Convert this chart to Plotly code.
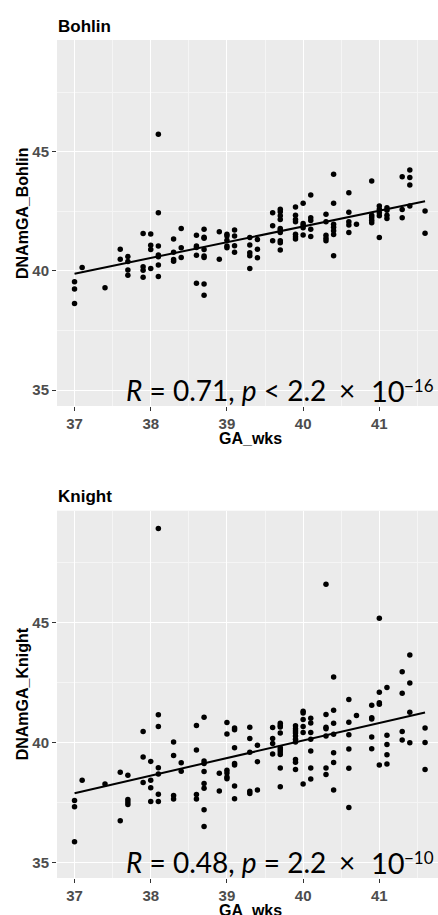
import numpy as np
import plotly.graph_objects as go

# ---------------- data ----------------
bohlin_x = [37.0, 37.0, 37.0, 37.1, 37.4, 37.6, 37.6, 37.7, 37.7, 37.7, 37.7,
            37.9, 37.9, 37.9, 37.9, 38.0, 38.0, 38.0, 38.0,
            38.1, 38.1, 38.1, 38.1, 38.1, 38.1, 38.1,
            38.3, 38.3, 38.3, 38.3, 38.4, 38.4, 38.4,
            38.6, 38.6, 38.6, 38.6, 38.6,
            38.7, 38.7, 38.7, 38.7, 38.7, 38.7, 38.7, 38.7,
            38.9, 38.9, 39.0, 39.0, 39.0, 39.0, 39.0,
            39.1, 39.1, 39.1, 39.1, 39.3, 39.3, 39.3, 39.3, 39.3,
            39.4, 39.4, 39.4, 39.6, 39.6, 39.6,
            39.7, 39.7, 39.7, 39.7, 39.7, 39.7, 39.7, 39.7, 39.7, 39.7,
            39.9, 39.9, 39.9, 39.9, 39.9, 39.9, 39.9,
            40.0, 40.0, 40.0, 40.0, 40.0, 40.1, 40.1, 40.1, 40.1, 40.1,
            40.3, 40.3, 40.3, 40.3, 40.3,
            40.4, 40.4, 40.4, 40.4, 40.4, 40.4, 40.4,
            40.6, 40.6, 40.6, 40.6, 40.6, 40.7,
            40.9, 40.9, 40.9, 40.9, 40.9, 41.0, 41.0, 41.0, 41.0, 41.0,
            41.1, 41.1, 41.1, 41.1, 41.3, 41.3, 41.3,
            41.4, 41.4, 41.4, 41.4, 41.6, 41.6]
bohlin_y = [39.54, 39.24, 38.63, 40.14, 39.29, 40.91, 40.49, 40.60, 40.39, 40.04, 39.82,
            41.57, 40.17, 40.03, 39.73, 41.55, 41.08, 40.90, 40.10,
            45.73, 42.44, 41.05, 40.67, 40.59, 40.25, 39.76,
            41.34, 40.78, 40.48, 40.41, 41.78, 40.97, 40.56,
            41.50, 41.04, 40.98, 40.66, 39.48,
            41.75, 41.41, 41.37, 40.90, 40.63, 40.56, 39.45, 38.98,
            41.64, 40.49, 41.54, 41.46, 41.29, 41.05, 40.97,
            41.72, 41.46, 41.06, 40.78, 41.40, 41.09, 40.76, 40.64, 40.10,
            41.32, 40.91, 40.55, 42.44, 41.89, 41.27,
            42.59, 42.48, 42.31, 42.16, 41.78, 41.71, 41.61, 41.26, 41.18, 40.88,
            42.68, 42.34, 42.16, 42.06, 41.54, 41.43, 41.34,
            42.84, 41.99, 41.90, 41.81, 41.51, 43.19, 42.23, 42.11, 41.75, 41.44,
            42.38, 42.06, 41.50, 41.37, 41.27,
            44.06, 42.84, 41.96, 41.83, 41.69, 41.53, 40.64,
            43.28, 42.46, 42.06, 41.93, 41.61, 41.96,
            43.77, 42.34, 42.24, 42.13, 42.02, 42.72, 42.59, 42.44, 42.31, 41.40,
            42.65, 42.55, 42.34, 42.20, 43.95, 42.58, 42.23,
            44.23, 43.92, 43.61, 42.72, 42.51, 41.58]

knight_x = [37.0, 37.0, 37.0, 37.1, 37.4, 37.6, 37.6, 37.7, 37.7, 37.7, 37.7,
            37.9, 37.9, 37.9, 38.0, 38.0, 38.0, 38.0,
            38.1, 38.1, 38.1, 38.1, 38.1, 38.1, 38.1,
            38.3, 38.3, 38.3, 38.3, 38.4, 38.4,
            38.6, 38.6, 38.6, 38.6,
            38.7, 38.7, 38.7, 38.7, 38.7, 38.7, 38.7, 38.7,
            38.9, 38.9, 39.0, 39.0, 39.0, 39.0, 39.0, 39.0,
            39.1, 39.1, 39.1, 39.1, 39.1, 39.1, 39.1,
            39.3, 39.3, 39.3, 39.3, 39.3, 39.4, 39.4, 39.4,
            39.6, 39.6, 39.6, 39.6,
            39.7, 39.7, 39.7, 39.7, 39.7, 39.7, 39.7, 39.7, 39.7, 39.7,
            39.9, 39.9, 39.9, 39.9, 39.9, 39.9, 39.9, 39.9, 39.9, 39.9,
            40.0, 40.0, 40.0, 40.0, 40.0, 40.0,
            40.1, 40.1, 40.1, 40.1, 40.1, 40.1, 40.1,
            40.3, 40.3, 40.3, 40.3, 40.3, 40.3, 40.3,
            40.4, 40.4, 40.4, 40.4, 40.4, 40.4, 40.4,
            40.6, 40.6, 40.6, 40.6, 40.6, 40.6, 40.7,
            40.9, 40.9, 40.9, 40.9, 40.9, 41.0, 41.0, 41.0, 41.0, 41.0,
            41.1, 41.1, 41.1, 41.1, 41.1, 41.3, 41.3, 41.3, 41.3,
            41.4, 41.4, 41.4, 41.4, 41.6, 41.6, 41.6]
knight_y = [37.59, 37.33, 35.87, 38.43, 38.28, 38.77, 36.75, 38.64, 37.63, 37.53, 37.42,
            40.47, 39.40, 38.34, 39.22, 38.43, 38.12, 37.55,
            48.93, 41.16, 40.67, 38.96, 38.70, 37.85, 37.55,
            40.03, 39.47, 37.80, 37.65, 39.16, 38.81,
            40.72, 39.70, 37.84, 37.65,
            41.06, 39.24, 39.13, 38.80, 38.30, 38.10, 37.20, 36.51,
            38.73, 37.99, 40.84, 40.36, 38.85, 38.74, 38.57, 38.50,
            40.61, 40.54, 39.79, 39.13, 39.07, 38.19, 37.66,
            40.64, 40.17, 39.60, 37.98, 37.88, 39.89, 39.21, 38.03,
            40.63, 40.17, 39.97, 39.53,
            40.81, 40.72, 40.65, 40.40, 39.79, 39.71, 39.61, 39.51, 38.95, 38.16,
            40.71, 40.58, 40.49, 40.40, 40.28, 40.14, 40.03, 39.30, 39.18, 38.88,
            41.31, 41.24, 40.97, 40.67, 40.43, 38.28,
            41.02, 40.82, 40.43, 40.14, 39.65, 38.95, 38.49,
            46.60, 41.18, 40.64, 40.58, 40.28, 38.95, 38.67,
            42.74, 41.35, 40.81, 40.35, 39.58, 39.17, 38.03,
            41.80, 40.85, 40.33, 39.74, 38.93, 37.30, 41.13,
            41.56, 41.04, 40.99, 40.24, 39.75, 45.19, 42.10, 41.67, 41.60, 39.07,
            42.30, 40.31, 39.92, 39.50, 39.11, 42.96, 42.06, 40.47, 40.11,
            43.66, 42.49, 41.27, 40.00, 40.61, 40.01, 38.88]

panel_titles = ["Bohlin", "Knight"]
y_titles = ["DNAmGA_Bohlin", "DNAmGA_Knight"]
x_title = "GA_wks"
stat_main = ["<i>R</i> = 0.71, <i>p</i> &lt; 2.2", "<i>R</i> = 0.48, <i>p</i> = 2.2"]
stat_base = ["10", "10"]
stat_power = ["−16", "−10"]

# ---------------- layout helpers ----------------
W, H = 438, 915


def py(y):  # pixel from top -> paper
    return 1 - y / H


def px(x):
    return x / W


panels = [
    dict(x=bohlin_x, y=bohlin_y, top=40, bottom=406, yr=[34.33, 49.69]),
    dict(x=knight_x, y=knight_y, top=510.7, bottom=878, yr=[34.36, 49.67]),
]

fig = go.Figure()
annotations = []
layout = {}
for i, p in enumerate(panels):
    n = "" if i == 0 else str(i + 1)
    xa, ya = "x" + n, "y" + n
    xs = np.array(p["x"])
    ys = np.array(p["y"])
    fig.add_trace(go.Scatter(x=xs, y=ys, mode="markers", xaxis=xa, yaxis=ya,
                             marker=dict(color="black", size=5.5, line=dict(width=0)),
                             showlegend=False, hoverinfo="x+y"))
    slope, icpt = np.polyfit(xs, ys, 1)
    lx = np.array([xs.min(), xs.max()])
    fig.add_trace(go.Scatter(x=lx, y=icpt + slope * lx, mode="lines", xaxis=xa, yaxis=ya,
                             line=dict(color="black", width=2), showlegend=False,
                             hoverinfo="skip"))
    layout["xaxis" + n] = dict(
        domain=[px(57), 1.0], range=[36.77, 41.77], anchor=ya,
        tickmode="linear", tick0=37, dtick=1,
        showgrid=True, gridcolor="white", gridwidth=1.1, zeroline=False,
        minor=dict(dtick=0.5, tick0=36.5, showgrid=True, gridcolor="#F5F5F5", gridwidth=0.6),
        ticks="outside", ticklen=4, tickwidth=1, tickcolor="#333333",
        tickfont=dict(family="Liberation Sans", size=15, color="#4D4D4D", weight="bold"),
        showline=False, fixedrange=True,
    )
    layout["yaxis" + n] = dict(
        domain=[py(p["bottom"]), py(p["top"])], range=p["yr"], anchor=xa,
        tickmode="linear", tick0=35, dtick=5,
        showgrid=True, gridcolor="white", gridwidth=1.1, zeroline=False,
        minor=dict(dtick=2.5, tick0=32.5, showgrid=True, gridcolor="#F5F5F5", gridwidth=0.6),
        ticks="outside", ticklen=4, tickwidth=1, tickcolor="#333333",
        tickfont=dict(family="Liberation Sans", size=15, color="#4D4D4D", weight="bold"),
        showline=False, fixedrange=True,
    )
    # panel title
    annotations.append(dict(text="<b>" + panel_titles[i] + "</b>", xref="paper", yref="paper",
                            x=px(56), y=py(p["top"] - 14), xanchor="left", yanchor="middle",
                            showarrow=False,
                            font=dict(family="Liberation Sans", size=17, color="black")))
    # y title
    ymid = (p["top"] + p["bottom"]) / 2 - (10 if i == 0 else 0)
    annotations.append(dict(text="<b>" + y_titles[i] + "</b>", xref="paper", yref="paper",
                            x=px(22), y=py(ymid), xanchor="center", yanchor="middle",
                            textangle=-90, showarrow=False,
                            font=dict(family="Liberation Sans", size=16, color="black")))
    # x title
    annotations.append(dict(text="<b>" + x_title + "</b>", xref="paper", yref="paper",
                            x=px(250), y=py(p["bottom"] + 32), xanchor="center", yanchor="middle",
                            showarrow=False,
                            font=dict(family="Liberation Sans", size=16, color="black")))
    # stat label, in pieces
    yc = py(p["bottom"] - 16)
    annotations.append(dict(text=stat_main[i], xref="paper", yref="paper",
                            x=px(124), y=yc, xanchor="left", yanchor="middle",
                            showarrow=False,
                            font=dict(family="Lato", size=28, color="black")))
    annotations.append(dict(text="×", xref="paper", yref="paper",
                            x=px(347), y=yc, xanchor="center", yanchor="middle",
                            showarrow=False,
                            font=dict(family="Lato", size=28, color="black")))
    annotations.append(dict(text=stat_base[i], xref="paper", yref="paper",
                            x=px(369), y=yc, xanchor="left", yanchor="middle",
                            showarrow=False,
                            font=dict(family="Lato", size=29, color="black")))
    annotations.append(dict(text=stat_power[i], xref="paper", yref="paper",
                            x=px(402), y=py(p["bottom"] - 21), xanchor="left", yanchor="middle",
                            showarrow=False,
                            font=dict(family="Lato", size=17, color="black")))

fig.update_layout(
    width=W, height=H, margin=dict(l=0, r=0, t=0, b=0),
    paper_bgcolor="white", plot_bgcolor="#EBEBEB",
    annotations=annotations, **layout,
)

fig.write_html("out.html")
